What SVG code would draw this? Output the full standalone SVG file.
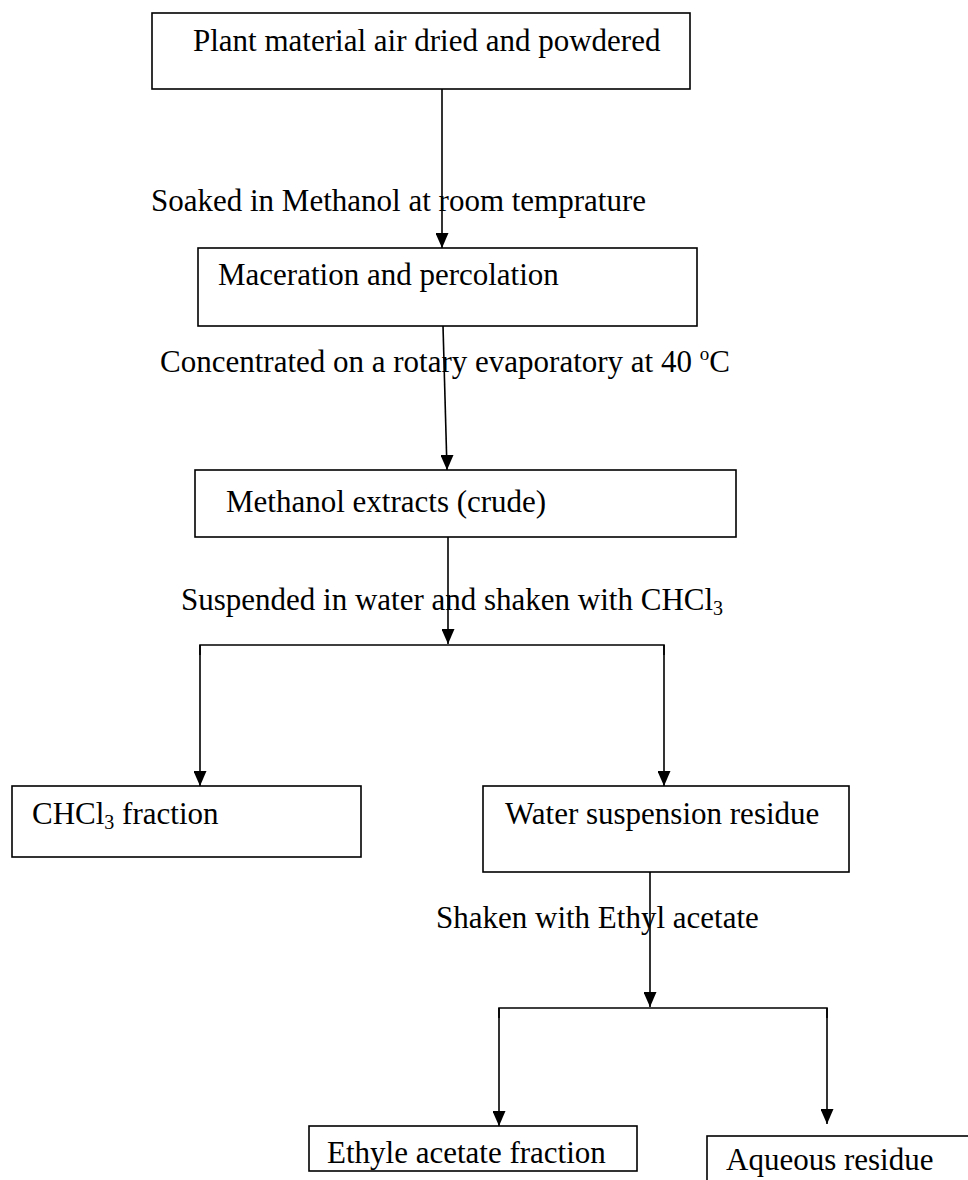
<svg xmlns="http://www.w3.org/2000/svg" width="968" height="1180" viewBox="0 0 968 1180">
<style>
.box{fill:#fff;stroke:#000;stroke-width:1.6}
.t{font-family:"Liberation Serif","Times New Roman",serif;font-size:31px;fill:#000}
.c{fill:none;stroke:#000;stroke-width:1.6}
</style>
<defs>
<marker id="ah" markerWidth="13" markerHeight="15" refX="6.5" refY="15" orient="0" markerUnits="userSpaceOnUse">
<path d="M0,0 L13,0 L6.5,15 Z" fill="#000"/>
</marker>
</defs>
<rect width="968" height="1180" fill="#fff"/>
<g id="connectors">
<line class="c" x1="442" y1="89" x2="442" y2="248" marker-end="url(#ah)"/>
<line class="c" x1="443" y1="326" x2="447" y2="470" marker-end="url(#ah)"/>
<line class="c" x1="448" y1="537" x2="448" y2="644" marker-end="url(#ah)"/>
<polyline class="c" points="200,655 200,645 664,645 664,655"/>
<line class="c" x1="200" y1="645" x2="200" y2="786" marker-end="url(#ah)"/>
<line class="c" x1="664" y1="645" x2="664" y2="786" marker-end="url(#ah)"/>
<line class="c" x1="650" y1="872" x2="650" y2="1007" marker-end="url(#ah)"/>
<polyline class="c" points="499,1018 499,1008 827,1008 827,1018"/>
<line class="c" x1="499" y1="1008" x2="499" y2="1126" marker-end="url(#ah)"/>
<line class="c" x1="827" y1="1008" x2="827" y2="1124" marker-end="url(#ah)"/>
</g>
<g id="labels">
<text class="t" x="151" y="211">Soaked in Methanol at room temprature</text>
<text class="t" x="160" y="372">Concentrated on a rotary evaporatory at 40 <tspan font-size="19" dy="-12">o</tspan><tspan dy="12">C</tspan></text>
<text class="t" x="181" y="610">Suspended in water and shaken with CHCl<tspan font-size="20" dy="5">3</tspan></text>
<text class="t" x="436" y="928">Shaken with Ethyl acetate</text>
</g>
<g id="n1"><rect class="box" x="152" y="13" width="538" height="76"/><text class="t" x="193" y="51">Plant material air dried and powdered</text></g>
<g id="n2"><rect class="box" x="198" y="248" width="499" height="78"/><text class="t" x="218" y="285">Maceration and percolation</text></g>
<g id="n3"><rect class="box" x="195" y="470" width="541" height="67"/><text class="t" x="226" y="512">Methanol extracts (crude)</text></g>
<g id="n4"><rect class="box" x="12" y="786" width="349" height="71"/><text class="t" x="32" y="824">CHCl<tspan font-size="20" dy="5">3</tspan><tspan dy="-5"> fraction</tspan></text></g>
<g id="n5"><rect class="box" x="483" y="786" width="366" height="86"/><text class="t" x="505" y="824">Water suspension residue</text></g>
<g id="n6"><rect class="box" x="309" y="1126" width="328" height="45"/><text class="t" x="327" y="1163">Ethyle acetate fraction</text></g>
<g id="n7"><rect class="box" x="707" y="1136" width="270" height="60"/><text class="t" x="726" y="1170">Aqueous residue</text></g>
</svg>
